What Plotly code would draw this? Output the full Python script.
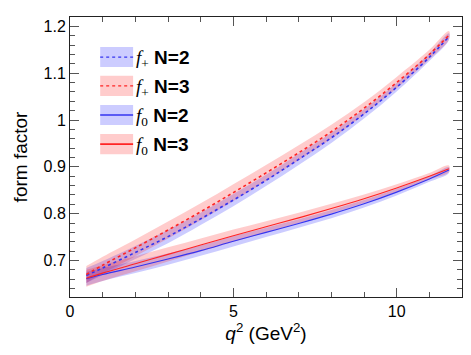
import plotly.graph_objects as go

# q^2 grid (GeV^2)
q2 = [0.5, 1, 2, 3, 4, 5, 6, 7, 8, 9, 10, 11, 11.6]

# f+ central values and half-widths
fp_n2 = [0.668, 0.684, 0.717, 0.751, 0.789, 0.829, 0.871, 0.916, 0.962, 1.013, 1.070, 1.134, 1.178]
fp_n2_err = [0.016, 0.015, 0.014, 0.014, 0.013, 0.013, 0.012, 0.012, 0.011, 0.010, 0.009, 0.008, 0.007]
fp_n3 = [0.670, 0.690, 0.727, 0.765, 0.804, 0.845, 0.887, 0.930, 0.975, 1.025, 1.080, 1.140, 1.181]
fp_n3_err = [0.018, 0.018, 0.018, 0.018, 0.018, 0.018, 0.017, 0.016, 0.015, 0.013, 0.012, 0.010, 0.009]

# f0 central values and half-widths
f0_n2 = [0.661, 0.670, 0.686, 0.703, 0.721, 0.741, 0.760, 0.779, 0.799, 0.821, 0.846, 0.874, 0.893]
f0_n2_err = [0.015, 0.014, 0.013, 0.012, 0.011, 0.011, 0.010, 0.009, 0.009, 0.008, 0.007, 0.006, 0.006]
f0_n3 = [0.662, 0.673, 0.693, 0.713, 0.733, 0.753, 0.772, 0.791, 0.811, 0.832, 0.855, 0.880, 0.896]
f0_n3_err = [0.018, 0.017, 0.016, 0.015, 0.014, 0.013, 0.012, 0.011, 0.010, 0.009, 0.008, 0.007, 0.007]

BLUE_LINE = "#3434f0"
RED_LINE = "#ff2424"
BLUE_FILL = "rgba(0,0,255,0.2)"
RED_FILL = "rgba(255,0,0,0.2)"

series = [
    (fp_n2, fp_n2_err, BLUE_LINE, BLUE_FILL, "dot", 1.6),
    (fp_n3, fp_n3_err, RED_LINE, RED_FILL, "dot", 1.6),
    (f0_n2, f0_n2_err, BLUE_LINE, BLUE_FILL, "solid", 1.1),
    (f0_n3, f0_n3_err, RED_LINE, RED_FILL, "solid", 1.1),
]

fig = go.Figure()
for vals, err, lc, fc, dash, w in series:
    hi = [v + e for v, e in zip(vals, err)]
    lo = [v - e for v, e in zip(vals, err)]
    fig.add_trace(go.Scatter(
        x=q2 + q2[::-1], y=hi + lo[::-1], fill="toself", fillcolor=fc,
        line=dict(width=0), mode="lines", showlegend=False, hoverinfo="skip",
        line_shape="spline",
    ))
for vals, err, lc, fc, dash, w in series:
    fig.add_trace(go.Scatter(
        x=q2, y=vals, mode="lines", showlegend=False,
        line=dict(color=lc, width=w, dash=dash, shape="spline"),
    ))

# hand-drawn legend (paper coords)
FSERIF = "<span style=\"font-family:'Liberation Serif'\"><i>f</i><sub>%s</sub></span> <b>%s</b>"
legend_rows = [
    (FSERIF % ("+", "N=2"), BLUE_LINE, BLUE_FILL, "dot"),
    (FSERIF % ("+", "N=3"), RED_LINE, RED_FILL, "dot"),
    (FSERIF % ("0", "N=2"), BLUE_LINE, BLUE_FILL, "solid"),
    (FSERIF % ("0", "N=3"), RED_LINE, RED_FILL, "solid"),
]
row_y = [0.857, 0.754, 0.650, 0.546]
for (label, lc, fc, dash), yy in zip(legend_rows, row_y):
    fig.add_shape(type="rect", xref="paper", yref="paper",
                  x0=0.077, x1=0.161, y0=yy - 0.036, y1=yy + 0.036,
                  fillcolor=fc, line=dict(width=0))
    fig.add_shape(type="line", xref="paper", yref="paper",
                  x0=0.077, x1=0.161, y0=yy, y1=yy,
                  line=dict(color=lc, width=1.3 if dash == "dot" else 1.6, dash=dash))
    fig.add_annotation(xref="paper", yref="paper", x=0.162, y=yy - 0.008,
                       xanchor="left", yanchor="middle", showarrow=False,
                       text=label, font=dict(size=19, color="black",
                                             family="Liberation Sans"))

axis_common = dict(
    showline=True, linecolor="#222", linewidth=1, mirror="allticks",
    ticks="inside", ticklen=9, tickcolor="#555", tickwidth=1,
    showgrid=False, zeroline=False, automargin=False,
    tickfont=dict(size=16, color="black", family="Liberation Sans"),
)

fig.update_xaxes(
    range=[0, 12], dtick=5, tick0=0,
    minor=dict(dtick=1, ticks="inside", ticklen=5, tickcolor="#555"),
    title=dict(text="<i>q</i><sup>2</sup> (GeV<sup>2</sup>)",
               font=dict(size=19, color="black", family="Liberation Sans"),
               standoff=4),
    **axis_common,
)
fig.update_yaxes(
    range=[0.622, 1.22], dtick=0.1, tick0=0.7,
    minor=dict(dtick=0.02, ticks="inside", ticklen=5, tickcolor="#555"),
    title=dict(text="form factor",
               font=dict(size=19, color="black", family="Liberation Sans"),
               standoff=10),
    **axis_common,
)

# the page body keeps its default 8px margin, so size the figure to fit inside it
fig.update_layout(
    width=463, height=347,
    margin=dict(l=62, r=9, t=9, b=58),
    plot_bgcolor="white", paper_bgcolor="white",
    showlegend=False,
)

fig.write_html("out.html")
